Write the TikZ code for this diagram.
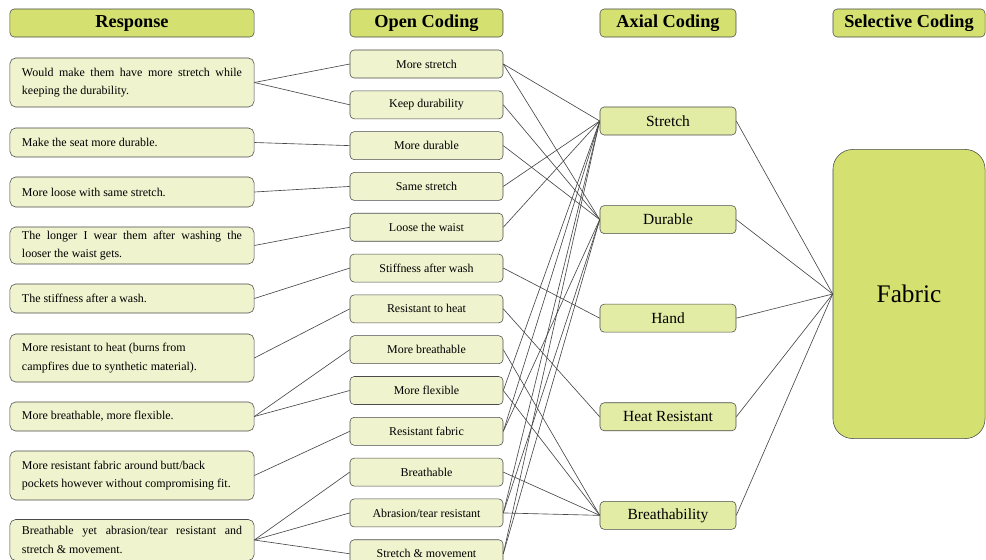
\documentclass[tikz,border=0pt]{standalone}
\usepackage{fontspec}
\setmainfont{Liberation Serif}
\usetikzlibrary{positioning}

\definecolor{hdrgreen}{RGB}{212,224,112}
\definecolor{boxpale}{RGB}{239,243,206}
\definecolor{axgreen}{RGB}{227,236,164}
\definecolor{boxline}{RGB}{75,75,75}

\begin{document}
\begin{tikzpicture}[x=0.025cm,y=-0.025cm,
  every node/.style={font=\fontsize{8.5}{13}\selectfont},
  hdr/.style={rectangle,draw=boxline,rounded corners=3pt,fill=hdrgreen,minimum height=0.7cm,inner sep=0pt,font=\fontsize{13}{15}\selectfont\bfseries},
  resp/.style={rectangle,draw=boxline,rounded corners=4pt,fill=boxpale,text width=5.5cm,inner xsep=0.3cm,inner ysep=0pt,align=justify},
  opn/.style={rectangle,draw=boxline,rounded corners=3pt,fill=boxpale,minimum width=3.825cm,minimum height=0.7cm,inner sep=0pt},
  axl/.style={rectangle,draw=boxline,rounded corners=3pt,fill=axgreen,minimum width=3.4cm,minimum height=0.7cm,inner sep=0pt,font=\fontsize{11}{13}\selectfont},
  sel/.style={rectangle,draw=boxline,rounded corners=14pt,fill=hdrgreen,minimum width=3.8cm,minimum height=7.225cm,inner sep=0pt,font=\fontsize{18}{20}\selectfont},
  link/.style={draw=black!72,line width=0.45pt}
]
\useasboundingbox (0,0) rectangle (986,559);

% column headers
\node[hdr,minimum width=6.1cm] (hr) at (132,23) {Response};
\node[hdr,minimum width=3.825cm] (ho) at (426.5,23) {Open Coding};
\node[hdr,minimum width=3.4cm] (ha) at (668,23) {Axial Coding};
\node[hdr,minimum width=3.8cm] (hs) at (909,23) {Selective Coding};

% responses
\node[resp,minimum height=1.225cm] (r1) at (132,82.5) {Would make them have more stretch while\linebreak keeping the durability.};
\node[resp,minimum height=0.725cm] (r2) at (132,142.5) {Make the seat more durable.};
\node[resp,minimum height=0.75cm] (r3) at (132,192) {More loose with same stretch.};
\node[resp,minimum height=0.925cm] (r4) at (132,245.5) {The longer I wear them after washing the\linebreak looser the waist gets.};
\node[resp,minimum height=0.725cm] (r5) at (132,298.5) {The stiffness after a wash.};
\node[resp,minimum height=1.2cm] (r6) at (132,358) {More resistant to heat (burns from\\campfires due to synthetic material).};
\node[resp,minimum height=0.725cm] (r7) at (132,416.5) {More breathable, more flexible.};
\node[resp,minimum height=1.225cm] (r8) at (132,475.5) {More resistant fabric around butt/back\\pockets however without compromising fit.};
\node[resp,minimum height=1.025cm] (r9) at (132,540) {Breathable yet abrasion/tear resistant and\linebreak stretch \& movement.};

% open codes
\node[opn] (o1) at (426.5,64) {More stretch};
\node[opn,below=0.306cm of o1] (o2) {Keep durability};
\node[opn,below=0.306cm of o2] (o3) {More durable};
\node[opn,below=0.306cm of o3] (o4) {Same stretch};
\node[opn,below=0.306cm of o4] (o5) {Loose the waist};
\node[opn,below=0.306cm of o5] (o6) {Stiffness after wash};
\node[opn,below=0.306cm of o6] (o7) {Resistant to heat};
\node[opn,below=0.306cm of o7] (o8) {More breathable};
\node[opn,below=0.306cm of o8] (o9) {More flexible};
\node[opn,below=0.306cm of o9] (o10) {Resistant fabric};
\node[opn,below=0.306cm of o10] (o11) {Breathable};
\node[opn,below=0.306cm of o11] (o12) {Abrasion/tear resistant};
\node[opn,below=0.306cm of o12] (o13) {Stretch \& movement};

% axial codes
\node[axl] (a1) at (668,121) {Stretch};
\node[axl,below=1.75cm of a1] (a2) {Durable};
\node[axl,below=1.75cm of a2] (a3) {Hand};
\node[axl,below=1.75cm of a3] (a4) {Heat Resistant};
\node[axl,below=1.75cm of a4] (a5) {Breathability};

% selective code
\node[sel] (fab) at (909,294) {Fabric};

% response -> open
\draw[link] (r1.east) -- (o1.west);
\draw[link] (r1.east) -- (o2.west);
\draw[link] (r2.east) -- (o3.west);
\draw[link] (r3.east) -- (o4.west);
\draw[link] (r4.east) -- (o5.west);
\draw[link] (r5.east) -- (o6.west);
\draw[link] (r6.east) -- (o7.west);
\draw[link] (r7.east) -- (o8.west);
\draw[link] (r7.east) -- (o9.west);
\draw[link] (r8.east) -- (o10.west);
\draw[link] (r9.east) -- (o11.west);
\draw[link] (r9.east) -- (o12.west);
\draw[link] (r9.east) -- (o13.west);

% open -> axial
\draw[link] (o1.east) -- (a1.west);
\draw[link] (o1.east) -- (a2.west);
\draw[link] (o2.east) -- (a2.west);
\draw[link] (o3.east) -- (a2.west);
\draw[link] (o4.east) -- (a1.west);
\draw[link] (o5.east) -- (a1.west);
\draw[link] (o6.east) -- (a3.west);
\draw[link] (o7.east) -- (a4.west);
\draw[link] (o8.east) -- (a5.west);
\draw[link] (o9.east) -- (a1.west);
\draw[link] (o9.east) -- (a5.west);
\draw[link] (o10.east) -- (a1.west);
\draw[link] (o10.east) -- (a2.west);
\draw[link] (o11.east) -- (a5.west);
\draw[link] (o12.east) -- (a1.west);
\draw[link] (o12.east) -- (a2.west);
\draw[link] (o12.east) -- (a5.west);
\draw[link] (o13.east) -- (a1.west);
\draw[link] (o13.east) -- (a2.west);

% axial -> selective
\draw[link] (a1.east) -- (fab.west);
\draw[link] (a2.east) -- (fab.west);
\draw[link] (a3.east) -- (fab.west);
\draw[link] (a4.east) -- (fab.west);
\draw[link] (a5.east) -- (fab.west);
\end{tikzpicture}
\end{document}
